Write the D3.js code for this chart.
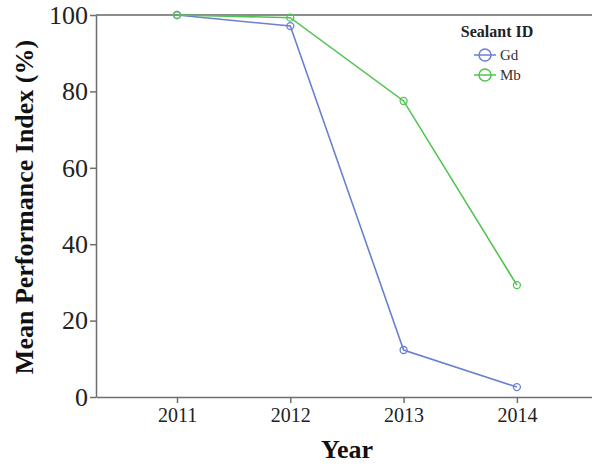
<!DOCTYPE html>
<html>
<head>
<meta charset="utf-8">
<script src="https://cdn.jsdelivr.net/npm/d3@7"></script>
<style>
  html, body { margin: 0; padding: 0; background: #fff; }
  svg { display: block; font-family: "Liberation Serif", "Times New Roman", serif; }
</style>
</head>
<body>
<svg id="chart" width="592" height="466"></svg>
<script>
// Mean performance index by year for each sealant
const years = [2011, 2012, 2013, 2014];
const gdValues = [100, 97.1, 12.3, 2.6];
const mbValues = [100, 99.3, 77.5, 29.3];
const yTicks = [0, 20, 40, 60, 80, 100];
const seriesNames = ["Gd", "Mb"];
const seriesColors = ["#6b80d2", "#52c452"];

const svg = d3.select("#chart");
const plotLeft = 96, plotRight = 600, plotTop = 15, plotBottom = 397;

const x = d3.scaleLinear()
  .domain([2011 - 81 / 113.3, 2011 + (plotRight - 177) / 113.3])
  .range([plotLeft, plotRight]);
const y = d3.scaleLinear().domain([0, 100]).range([plotBottom, plotTop]);

const axisColor = "#6e6e6e";

// top frame line
svg.append("line")
  .attr("x1", plotLeft).attr("x2", 592)
  .attr("y1", plotTop).attr("y2", plotTop)
  .attr("stroke", "#8c8c8c").attr("stroke-width", 2);

// y axis
const yAxis = svg.append("g")
  .attr("transform", `translate(${plotLeft},0)`)
  .call(d3.axisLeft(y).tickValues(yTicks).tickSize(6).tickSizeOuter(0).tickPadding(2));
yAxis.select(".domain").attr("stroke", axisColor).attr("stroke-width", 1.5);
yAxis.selectAll(".tick line").attr("stroke", axisColor).attr("stroke-width", 1.5);
yAxis.selectAll(".tick text")
  .attr("fill", "#222").attr("font-size", 26)
  .attr("font-family", "Liberation Serif, serif");

// x axis
const xAxis = svg.append("g")
  .attr("transform", `translate(0,${plotBottom})`)
  .call(d3.axisBottom(x).tickValues(years).tickFormat(d3.format("d"))
    .tickSize(6).tickSizeOuter(0).tickPadding(5));
xAxis.select(".domain").attr("stroke", axisColor).attr("stroke-width", 1.5);
xAxis.selectAll(".tick line").attr("stroke", axisColor).attr("stroke-width", 1.5);
xAxis.selectAll(".tick text")
  .attr("fill", "#222").attr("font-size", 20)
  .attr("font-family", "Liberation Serif, serif");

// axis titles
svg.append("text")
  .attr("transform", `translate(33,207) rotate(-90)`)
  .attr("text-anchor", "middle")
  .attr("font-size", 26).attr("font-weight", "bold").attr("fill", "#111")
  .text("Mean Performance Index (%)");

svg.append("text")
  .attr("x", 347).attr("y", 458)
  .attr("text-anchor", "middle")
  .attr("font-size", 26).attr("font-weight", "bold").attr("fill", "#111")
  .text("Year");

// series lines and markers
const allSeries = [gdValues, mbValues];
const line = d3.line().x((d, i) => x(years[i])).y(d => y(d));

allSeries.forEach((vals, s) => {
  const g = svg.append("g");
  g.append("path")
    .datum(vals)
    .attr("d", line)
    .attr("fill", "none")
    .attr("stroke", seriesColors[s])
    .attr("stroke-width", 1.6);
  g.selectAll("circle")
    .data(vals)
    .join("circle")
    .attr("cx", (d, i) => x(years[i]))
    .attr("cy", d => y(d))
    .attr("r", 3.5)
    .attr("fill", "none")
    .attr("stroke", seriesColors[s])
    .attr("stroke-width", 1.3);
});

// legend
const legend = svg.append("g").attr("transform", "translate(497,0)");
legend.append("text")
  .attr("x", 0).attr("y", 37)
  .attr("text-anchor", "middle")
  .attr("font-size", 16).attr("font-weight", "bold").attr("fill", "#222")
  .text("Sealant ID");

seriesNames.forEach((name, i) => {
  const cy = 55 + i * 20;
  const item = legend.append("g");
  item.append("line")
    .attr("x1", -23).attr("x2", -1)
    .attr("y1", cy).attr("y2", cy)
    .attr("stroke", seriesColors[i]).attr("stroke-width", 1.5);
  item.append("circle")
    .attr("cx", -12).attr("cy", cy).attr("r", 6)
    .attr("fill", "none")
    .attr("stroke", seriesColors[i]).attr("stroke-width", 1.5);
  item.append("text")
    .attr("x", 3).attr("y", cy + 5)
    .attr("font-size", 15).attr("fill", "#333")
    .text(name);
});
</script>
</body>
</html>
